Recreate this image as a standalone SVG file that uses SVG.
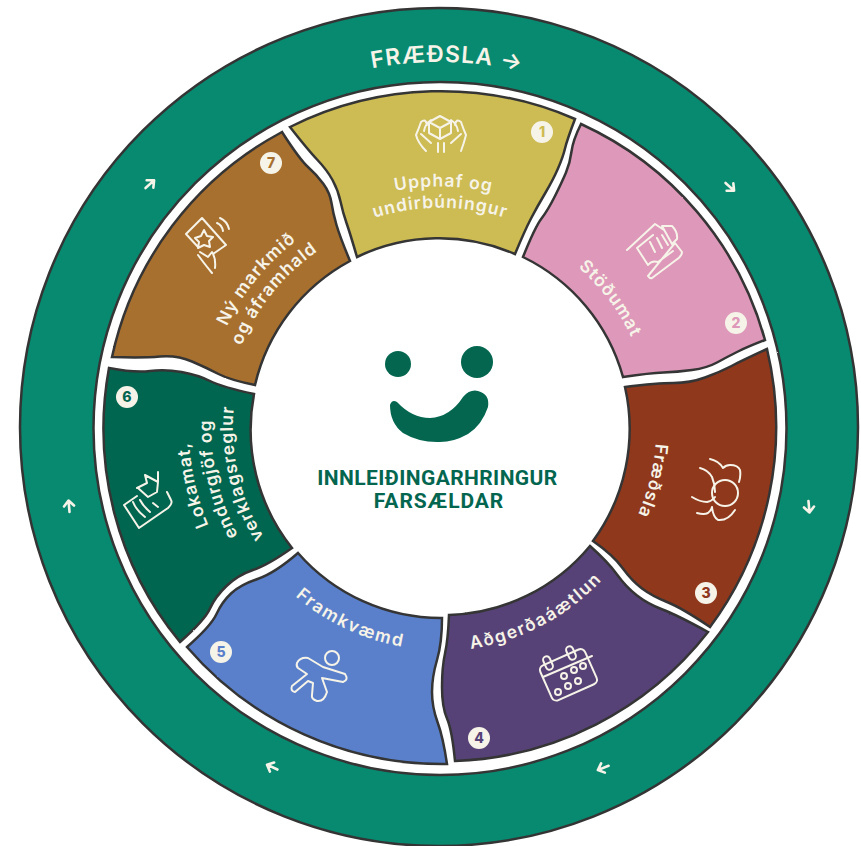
<svg xmlns="http://www.w3.org/2000/svg" width="861" height="846" viewBox="0 0 861 846">
<style>
.seg{stroke:#343434;stroke-width:2.500;stroke-linejoin:miter;filter:url(#rough)}
.lbl{font-family:Inter,"Open Sans",sans-serif;font-weight:600;font-size:17.500px;letter-spacing:1px;fill:#f6f3e8;text-anchor:middle}
.wide{letter-spacing:1.700px}
.ico{fill:none;stroke:#f6f3e8;stroke-width:2;stroke-linecap:round;stroke-linejoin:round}
.bd{fill:#f6f3e8}
.num{font-family:Inter,"Open Sans",sans-serif;font-weight:800;font-size:14px;text-anchor:middle}
.ttl{font-family:Roboto,"Liberation Sans",sans-serif;font-weight:700;font-size:21px;fill:#04664f;text-anchor:middle}
.arr{fill:none;stroke:#f6f3e8;stroke-width:2.600;stroke-linecap:round;stroke-linejoin:round}
</style>
<defs>
<filter id="rough" x="-5%" y="-5%" width="110%" height="110%"><feTurbulence type="fractalNoise" baseFrequency="0.25" numOctaves="2" seed="3"/><feDisplacementMap in="SourceGraphic" scale="1.300" xChannelSelector="R" yChannelSelector="G"/></filter>
<path id="a" d="M-6 0H5M0 -5L5.500 0L0 5"/>
<path id="t0" d="M257 111A366 366 0 0 1 623 111"/>
<path id="t1a" d="M285 243A241 241 0 0 1 595 243"/>
<path id="t1b" d="M299 259A220 220 0 0 1 581 259"/>
<path id="t2" d="M522 232.500A212 212 0 0 1 650 401.500"/>
<path id="t3" d="M648 368A216 216 0 0 1 595 578"/>
<path id="t4" d="M429 651A224 224 0 0 0 628 546"/>
<path id="t5" d="M258 555A222 222 0 0 0 459 649"/>
<path id="t6a" d="M272 614.500A251 251 0 0 1 207 334"/>
<path id="t6b" d="M287 598A229 229 0 0 1 228 342"/>
<path id="t6c" d="M301.500 581.800A207 207 0 0 1 248 350"/>
<path id="t7a" d="M204.500 411.500A236 236 0 0 1 375 201"/>
<path id="t7b" d="M225.400 413A215 215 0 0 1 380.700 221.400"/>
</defs>
<rect width="861" height="846" fill="#fff"/>
<g id="ring">
<circle cx="439" cy="427" r="419" fill="#088a70" stroke="#343434" stroke-width="2.500"/>
<circle cx="440" cy="428.500" r="346.500" fill="#fff" stroke="#343434" stroke-width="2.500" filter="url(#rough)"/>
<text font-family="Inter,'Open Sans',sans-serif" font-weight="600" font-size="23" letter-spacing="1" fill="#f6f3e8" text-anchor="middle"><textPath href="#t0" startOffset="51.800%">FRÆÐSLA →</textPath></text>
</g>
<g id="connectors">
<use href="#a" class="arr" transform="translate(150 184) rotate(-42)"/>
<use href="#a" class="arr" transform="translate(730 187) rotate(42)"/>
<use href="#a" class="arr" transform="translate(809 507) rotate(85)"/>
<use href="#a" class="arr" transform="translate(603 768) rotate(158)"/>
<use href="#a" class="arr" transform="translate(272 767) rotate(205)"/>
<use href="#a" class="arr" transform="translate(69 506) rotate(-95)"/>
</g>
<g id="node-1">
<path class="seg" fill="#cdbb52" d="M290 127A336 336 0 0 1 575 119Q567 140 565 148.500Q563 157 558 168.500Q553 180 545 193.500Q537 207 531 218.500Q525 230 515 254A190 190 0 0 0 357 257Q350 233 346.500 223Q343 213 340.500 201.500Q338 190 332.500 180Q327 170 317.500 160Q308 150 290 127Z"/>
<path class="ico" d="M440 116L451 122V133L440 139L429 133V122ZM429 122L440 128L451 122M440 128V139M426 151Q418 143 416 135Q419 128 421 122Q426 118 427 125M431 120Q425 124 424 131M421 134L431 143M438 143V152M461 151Q464 143 466 135Q463 128 461 122Q456 118 455 125M451 120Q457 124 458 131M461 134L451 143M444 143V152"/>
<text class="lbl"><textPath href="#t1a" startOffset="51%">Upphaf og</textPath></text>
<text class="lbl"><textPath href="#t1b" startOffset="50%">undirbúningur</textPath></text>
<circle class="bd" cx="542" cy="132" r="11"/><text class="num" x="542" y="137" fill="#cdbb52">1</text>
</g>
<g id="node-2">
<path class="seg" fill="#de98b9" d="M581 124A336 336 0 0 1 765 340Q747 347 737 352Q727 357 717 362.500Q707 368 692 370Q677 372 663.500 372.500Q650 373 623 377A190 190 0 0 0 523 257Q535 227 541.500 218.500Q548 210 555 196Q562 182 566 172.500Q570 163 571.500 151.500Q573 140 581 124Z"/>
<path class="ico" d="M627 250L655 224L664 230M675 243L682 252Q682 256 676 260L652 278Q650 279 648 276ZM662 226L672 226Q678 232 677 239L672 244ZM637 248L653 235M637 248L648 265Q652 260 658 262L673 251M650 242L655 252M657 238L662 248M662 235L668 245"/>
<text class="lbl"><textPath href="#t2" startOffset="50%">Stöðumat</textPath></text>
<circle class="bd" cx="736" cy="323" r="11"/><text class="num" x="736" y="328" fill="#de98b9">2</text>
</g>
<g id="node-3">
<path class="seg" fill="#8f381e" d="M767 349A336 336 0 0 1 710 627Q682 608 667 602Q652 596 642 588.500Q632 581 622.500 568Q613 555 593 541A190 190 0 0 0 625 387Q657 383 673.500 383Q690 383 705 377.500Q720 372 731.500 366Q743 360 767 349Z"/>
<path class="ico" d="M710 459Q719 461 723 468Q726 465 730 465Q738 465 740 470Q741 476 739 482M700 468Q708 470 712 477Q715 484 715 492M692 497Q700 502 707 502Q712 501 715 497M697 513Q704 515 708 513Q711 511 712 507M712 507Q713 517 718 520Q728 521 735 510"/>
<circle class="ico" cx="725" cy="493" r="13"/>
<text class="lbl"><textPath href="#t3" startOffset="50%">Fræðsla</textPath></text>
<circle class="bd" cx="706" cy="593" r="11"/><text class="num" x="706" y="598" fill="#8f381e">3</text>
</g>
<g id="node-4">
<path class="seg" fill="#564377" d="M708 632A336 336 0 0 1 455 761Q452 730 447 718.500Q442 707 442 687Q442 667 445 653.500Q448 640 449 615A190 190 0 0 0 590 546Q608 562 617 574.500Q626 587 637 595.500Q648 604 662.500 609.500Q677 615 708 632Z"/>
<g class="ico"><rect x="544" y="656" width="49" height="38" rx="5" transform="rotate(-24 568 675)"/><path d="M543 677L592 656"/><rect x="544.500" y="656" width="7" height="14" rx="3.500" transform="rotate(-24 548 663)"/><rect x="567.500" y="646" width="7" height="14" rx="3.500" transform="rotate(-24 571 653)"/><circle cx="564" cy="676" r="3"/><circle cx="574" cy="670" r="3"/><circle cx="583" cy="666" r="3"/><circle cx="558" cy="692" r="3"/><circle cx="568" cy="686" r="3"/><circle cx="578" cy="681" r="3"/></g>
<text class="lbl wide"><textPath href="#t4" startOffset="50%">Aðgerðaáætlun</textPath></text>
<circle class="bd" cx="479" cy="738" r="11"/><text class="num" x="479" y="743" fill="#564377">4</text>
</g>
<g id="node-5">
<path class="seg" fill="#5a80cb" d="M442 618Q442 643 437 660Q432 677 432 692Q432 707 437.500 722Q443 737 447 764A336 336 0 0 1 187 647Q211 626 216.500 614Q222 602 231 593.500Q240 585 257.500 579Q275 573 298 553A190 190 0 0 0 442 618Z"/>
<circle class="ico" cx="332" cy="658" r="7"/>
<path class="ico" d="M297 663Q300 657 308 658L323 667L345 674Q349 680 343 682L322 678L327 692Q324 702 317 701Q311 699 312 695L313 683L308 681L295 692Q290 691 292 686L307 674L298 668Q296 666 297 663Z"/>
<text class="lbl wide"><textPath href="#t5" startOffset="50%">Framkvæmd</textPath></text>
<circle class="bd" cx="221" cy="652" r="11"/><text class="num" x="221" y="657" fill="#5a80cb">5</text>
</g>
<g id="node-6">
<path class="seg" fill="#04664f" d="M180 642A336 336 0 0 1 109 368Q135 373 150 371Q165 369 181.500 372Q198 375 210 381Q222 387 254 394A190 190 0 0 0 292 548Q268 565 253 570Q238 575 226.500 586Q215 597 210 608.500Q205 620 180 642Z"/>
<path class="ico" d="M124 505L137 496M124 505L139 528L168 508Q173 503 171 500L167 492M133 502Q136 510 145 517M140 500Q143 506 150 512M153 503L158 507M137 488L147 483L145 475L158 482L158 472M138 488L148 497L157 492L158 482"/>
<text class="lbl"><textPath href="#t6a" startOffset="50%">Lokamat,</textPath></text>
<text class="lbl"><textPath href="#t6b" startOffset="50%">endurgjöf og</textPath></text>
<text class="lbl"><textPath href="#t6c" startOffset="50%">verklagsreglur</textPath></text>
<circle class="bd" cx="127" cy="397" r="11"/><text class="num" x="127" y="402" fill="#04664f">6</text>
</g>
<g id="node-7">
<path class="seg" fill="#a8702f" d="M112 357A336 336 0 0 1 282 132Q300 160 308.500 167.500Q317 175 323.500 184Q330 193 331.500 203Q333 213 336.500 225Q340 237 350 261A190 190 0 0 0 255 385Q230 380 218.500 374Q207 368 192 361.500Q177 355 160 356.500Q143 358 112 357Z"/>
<path class="ico" d="M186 234L202 218L226 245L213 254M186 234L198 247M204 230L207 236L213 237L209 241L210 247L204 245L198 248L199 242L195 238L201 236ZM198 255Q203 262 212 273M200 252L208 257L212 252Q216 258 215 268M217 223Q222 225 223 231M220 218Q227 221 229 229"/>
<text class="lbl"><textPath href="#t7a" startOffset="50%">Ný markmið</textPath></text>
<text class="lbl"><textPath href="#t7b" startOffset="50%">og áframhald</textPath></text>
<circle class="bd" cx="271" cy="163" r="11"/><text class="num" x="271" y="168" fill="#a8702f">7</text>
</g>
<g id="center">
<circle cx="398" cy="364" r="13" fill="#04664f"/>
<circle cx="477" cy="362" r="16" fill="#04664f"/>
<path fill="#04664f" d="M390 405Q392 399 397 402Q412 418 430 418Q450 417 463 397Q470 389 478 391Q490 394 488 407Q482 425 468 434Q452 443 437 442Q418 442 403 433Q390 423 390 405Z"/>
<text class="ttl" x="437.500" y="485" letter-spacing=".4">INNLEIÐINGARHRINGUR</text>
<text class="ttl" x="439" y="508" letter-spacing=".9">FARSÆLDAR</text>
</g>
</svg>
